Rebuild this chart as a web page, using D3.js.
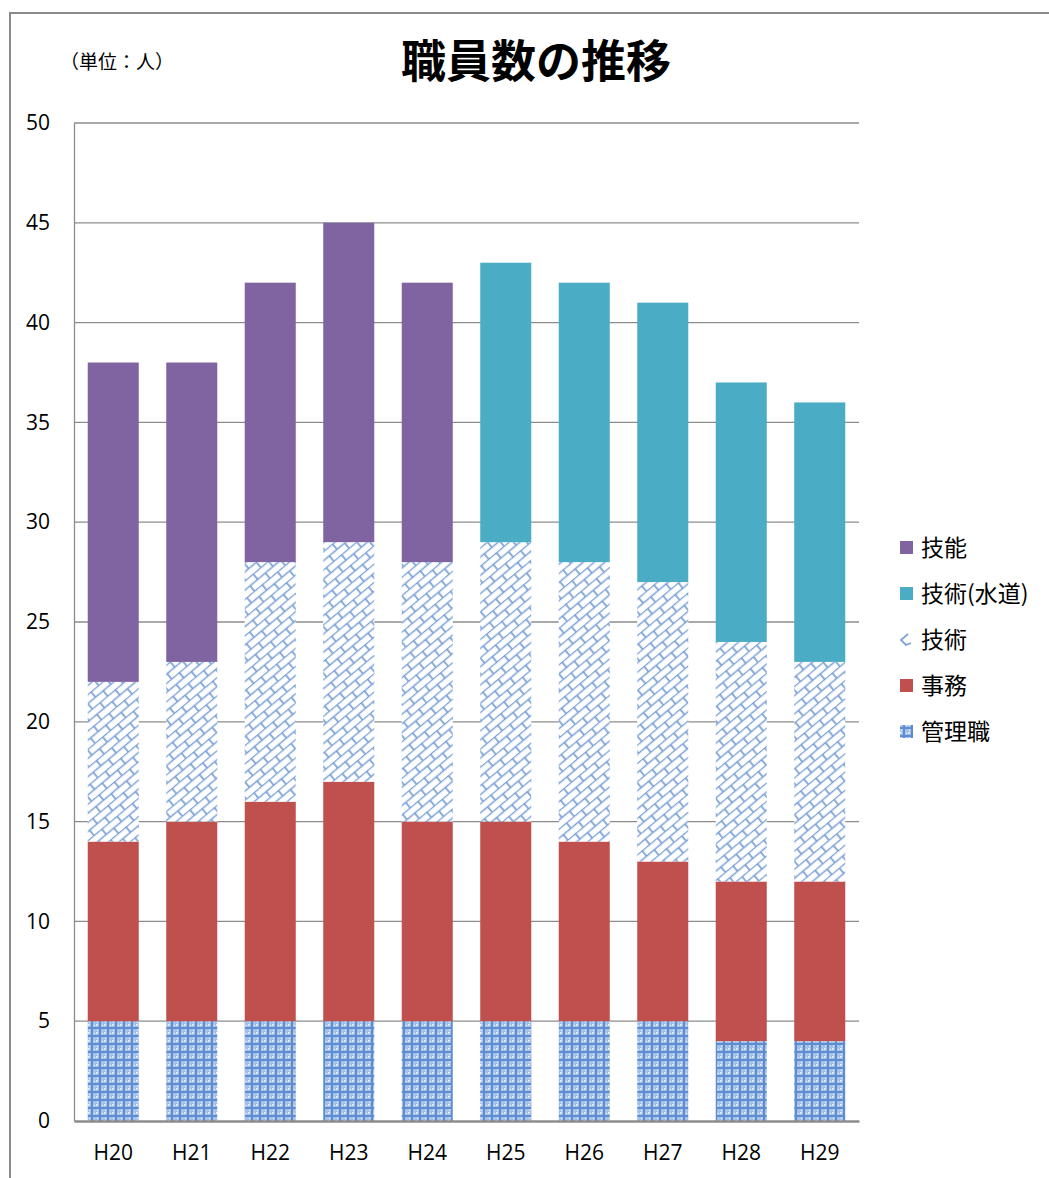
<!DOCTYPE html>
<html>
<head>
<meta charset="utf-8">
<script src="https://cdn.jsdelivr.net/npm/d3@7"></script>
<style>
  body { margin: 0; background: #fff; }
  text { font-family: "Noto Sans CJK JP", "Noto Sans", sans-serif; }
</style>
</head>
<body>
<svg id="chart"></svg>
<script>
const W = 1049, H = 1178;

const years = ['H20','H21','H22','H23','H24','H25','H26','H27','H28','H29'];
const kanri = [5, 5, 5, 5, 5, 5, 5, 5, 4, 4];          // 管理職
const jimu = [9, 10, 11, 12, 10, 10, 9, 8, 8, 8];       // 事務
const gijutsu = [8, 8, 12, 12, 13, 14, 14, 14, 12, 11]; // 技術
const suido = [0, 0, 0, 0, 0, 14, 14, 14, 13, 13];      // 技術(水道)
const ginou = [16, 15, 14, 16, 14, 0, 0, 0, 0, 0];      // 技能
const yTicks = [0, 5, 10, 15, 20, 25, 30, 35, 40, 45, 50];

const series = [
  {key: 'kanri', name: '管理職', values: kanri, fill: 'url(#pKanri)'},
  {key: 'jimu', name: '事務', values: jimu, fill: '#C0504D'},
  {key: 'gijutsu', name: '技術', values: gijutsu, fill: 'url(#pBrick)'},
  {key: 'suido', name: '技術(水道)', values: suido, fill: '#4BACC6'},
  {key: 'ginou', name: '技能', values: ginou, fill: '#8064A2'}
];

const table = years.map((y, i) => {
  const row = {year: y};
  series.forEach(s => row[s.key] = s.values[i]);
  return row;
});
const stacked = d3.stack().keys(series.map(s => s.key))(table);

const svg = d3.select('#chart').attr('width', W).attr('height', H);

// patterns
const defs = svg.append('defs');
const brick = defs.append('pattern')
    .attr('id', 'pBrick')
    .attr('patternUnits', 'userSpaceOnUse')
    .attr('width', 20).attr('height', 14)
    .attr('patternTransform', 'rotate(-40)');
brick.append('rect').attr('width', 20).attr('height', 14).attr('fill', '#fff');
brick.append('path')
    .attr('d', 'M0,0.5H20M0,7.5H20M5,0.5V7.5M15,7.5V14.5')
    .attr('stroke', '#7AA0D8').attr('stroke-width', 1.7).attr('fill', 'none');

const kp = defs.append('pattern')
    .attr('id', 'pKanri')
    .attr('patternUnits', 'userSpaceOnUse')
    .attr('width', 8).attr('height', 8);
kp.append('rect').attr('width', 8).attr('height', 8).attr('fill', '#A3C0E8');
kp.append('path').attr('d', 'M3,0h2v8h-2zM0,3h8v2h-8z').attr('fill', '#5E8CD0');
kp.append('rect').attr('x', 0).attr('y', 0).attr('width', 1.5).attr('height', 1.5).attr('fill', '#fff');
kp.append('rect').attr('x', 1).attr('y', 5.5).attr('width', 1.2).attr('height', 1.2).attr('fill', '#EEF3FB');
kp.append('rect').attr('x', 5.5).attr('y', 1).attr('width', 1.2).attr('height', 1.2).attr('fill', '#EEF3FB');

// outer frame
svg.append('rect')
    .attr('x', 10).attr('y', 13)
    .attr('width', W + 20).attr('height', H + 20)
    .attr('fill', 'none').attr('stroke', '#8a8a8a').attr('stroke-width', 2);

const margin = {left: 74, right: 859, top: 123, bottom: 1121};

const x = d3.scaleBand().domain(years)
    .range([margin.left, margin.right]).paddingInner(0.35).paddingOuter(0.175);
const y = d3.scaleLinear().domain([0, 50]).range([margin.bottom, margin.top]);

// grid
svg.append('g')
  .selectAll('line')
  .data(yTicks.filter(d => d > 0))
  .join('line')
    .attr('x1', margin.left).attr('x2', margin.right)
    .attr('y1', d => y(d)).attr('y2', d => y(d))
    .attr('stroke', '#8c8c8c').attr('stroke-width', 1.3);

// bars
svg.append('g')
  .selectAll('g')
  .data(stacked)
  .join('g')
    .attr('fill', (d, i) => series[i].fill)
  .selectAll('rect')
  .data(d => d)
  .join('rect')
    .attr('x', d => x(d.data.year))
    .attr('width', x.bandwidth())
    .attr('y', d => y(d[1]))
    .attr('height', d => y(d[0]) - y(d[1]));

// axes
const yAxis = svg.append('g')
    .attr('transform', `translate(${margin.left},0)`)
    .call(d3.axisLeft(y).tickValues(yTicks).tickSize(0).tickPadding(24));
yAxis.select('.domain').attr('stroke', '#8c8c8c').attr('stroke-width', 1.3);
yAxis.selectAll('text').attr('font-size', 21).attr('fill', '#000')
    .style('font-family', '"Open Sans", "Noto Sans", sans-serif');

const xAxis = svg.append('g')
    .attr('transform', `translate(0,${margin.bottom})`)
    .call(d3.axisBottom(x).tickSize(0).tickPadding(24));
xAxis.select('.domain').attr('stroke', '#8c8c8c').attr('stroke-width', 2.5);
xAxis.selectAll('text').attr('font-size', 21).attr('fill', '#000')
    .style('font-family', '"Open Sans", "Noto Sans", sans-serif');

// title
svg.append('text')
    .attr('x', 536).attr('y', 78)
    .attr('text-anchor', 'middle')
    .attr('font-size', 45).attr('font-weight', 'bold')
    .text('職員数の推移');

svg.append('text')
    .attr('x', 60).attr('y', 69)
    .attr('font-size', 19)
    .text('（単位：人）');

// legend
const legend = svg.append('g')
  .selectAll('g')
  .data(series.slice().reverse())
  .join('g')
    .attr('transform', (d, i) => `translate(900,${548 + i * 46})`);
legend.append('rect')
    .attr('x', 0).attr('y', -7).attr('width', 13).attr('height', 13)
    .attr('fill', d => d.key === 'gijutsu' ? 'none' : d.fill);
legend.filter(d => d.key === 'gijutsu').append('path')
    .attr('d', 'M8,-6L1,0L6,5L11,3')
    .attr('fill', 'none').attr('stroke', '#7AA0D8').attr('stroke-width', 1.8);
legend.append('text')
    .attr('x', 21).attr('y', 0).attr('dy', '0.35em')
    .attr('font-size', 23)
    .text(d => d.name);
</script>
</body>
</html>
